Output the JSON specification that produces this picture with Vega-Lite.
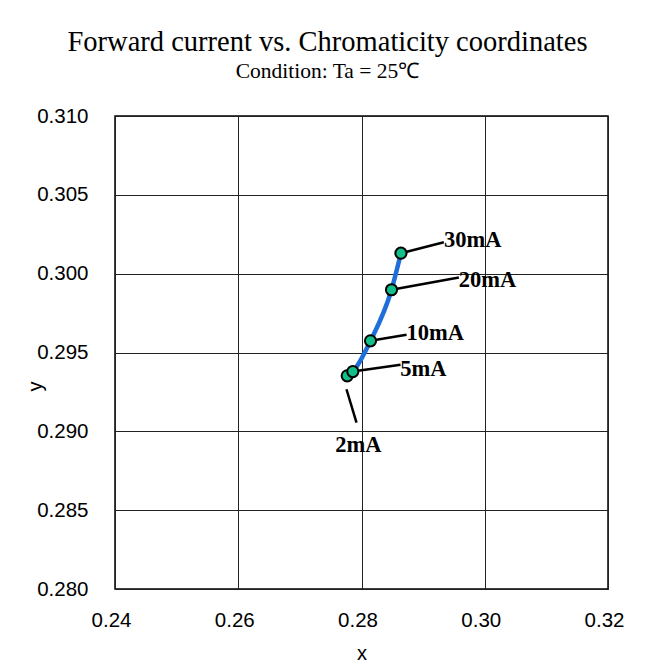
{
  "$schema": "https://vega.github.io/schema/vega-lite/v6.json",
  "autosize": "none",
  "width": 493,
  "height": 473,
  "padding": {"left": 115, "top": 116, "right": 43, "bottom": 77},
  "background": "white",
  "title": {
    "text": "Forward current vs. Chromaticity coordinates",
    "subtitle": "Condition: Ta = 25℃",
    "anchor": "middle",
    "frame": "group",
    "dx": -34,
    "offset": 24,
    "font": "Liberation Serif",
    "fontSize": 28.5,
    "fontWeight": "normal",
    "color": "black",
    "subtitleFont": "Liberation Serif",
    "subtitleFontSize": 21.5,
    "subtitleColor": "black",
    "subtitlePadding": 4
  },
  "datasets": {
    "pts": [
      {"current": "2mA", "mA": 2, "x": 0.27768, "y": 0.29352},
      {"current": "5mA", "mA": 5, "x": 0.27859, "y": 0.29379},
      {"current": "10mA", "mA": 10, "x": 0.28146, "y": 0.29574},
      {"current": "20mA", "mA": 20, "x": 0.28487, "y": 0.29898},
      {"current": "30mA", "mA": 30, "x": 0.2864, "y": 0.3013}
    ],
    "leaders": [
      {"current": "30mA", "x": 0.2864, "y": 0.3013, "x2": 0.29336, "y2": 0.30199},
      {"current": "20mA", "x": 0.28487, "y": 0.29898, "x2": 0.2958, "y2": 0.29976},
      {"current": "10mA", "x": 0.28146, "y": 0.29574, "x2": 0.28731, "y2": 0.29612},
      {"current": "5mA", "x": 0.27859, "y": 0.29379, "x2": 0.28633, "y2": 0.29422},
      {"current": "2mA", "x": 0.27756, "y": 0.29267, "x2": 0.27919, "y2": 0.29055}
    ],
    "labels": [
      {"current": "30mA", "x": 0.2934, "y": 0.30216},
      {"current": "20mA", "x": 0.2958, "y": 0.29962},
      {"current": "10mA", "x": 0.2873, "y": 0.29625},
      {"current": "5mA", "x": 0.2863, "y": 0.29398}
    ],
    "labels2": [
      {"current": "2mA", "x": 0.27951, "y": 0.28914}
    ]
  },
  "config": {
    "view": {"stroke": "black", "strokeWidth": 1.5},
    "axis": {
      "labelFont": "Liberation Sans",
      "labelFontSize": 20.5,
      "labelColor": "black",
      "labelFlush": false,
      "titleFont": "Liberation Sans",
      "titleFontSize": 20,
      "titleFontWeight": "normal",
      "titleColor": "black",
      "grid": true,
      "gridColor": "#222222",
      "gridOpacity": 1,
      "gridWidth": 1,
      "domain": false,
      "ticks": false,
      "tickSize": 0
    }
  },
  "encoding": {
    "x": {
      "field": "x", "type": "quantitative",
      "scale": {"domain": [0.24, 0.32], "nice": false, "zero": false},
      "axis": {"values": [0.24, 0.26, 0.28, 0.30, 0.32], "format": ".2f", "labelPadding": 21, "labelOffset": -4, "title": "x", "titlePadding": 13}
    },
    "y": {
      "field": "y", "type": "quantitative",
      "scale": {"domain": [0.28, 0.31], "nice": false, "zero": false},
      "axis": {"values": [0.28, 0.285, 0.29, 0.295, 0.30, 0.305, 0.31], "format": ".3f", "labelPadding": 27, "title": "y", "titleX": -80, "titleY": 270, "titleAngle": -90, "titleAlign": "center", "titleBaseline": "middle"}
    }
  },
  "layer": [
    {
      "data": {"name": "pts"},
      "mark": {"type": "line", "color": "#1e6fd9", "strokeWidth": 4.5, "interpolate": "monotone"},
      "encoding": {"order": {"field": "mA", "type": "quantitative"}}
    },
    {
      "data": {"name": "leaders"},
      "mark": {"type": "rule", "color": "black", "strokeWidth": 2.5},
      "encoding": {
        "x2": {"field": "x2"},
        "y2": {"field": "y2"}
      }
    },
    {
      "data": {"name": "pts"},
      "mark": {"type": "point", "shape": "circle", "filled": true, "fill": "#10bf8a", "stroke": "black", "strokeWidth": 2, "size": 125, "opacity": 1}
    },
    {
      "data": {"name": "labels"},
      "mark": {"type": "text", "align": "left", "baseline": "middle", "font": "Liberation Serif", "fontWeight": "bold", "fontSize": 22.5, "color": "black"},
      "encoding": {"text": {"field": "current"}}
    },
    {
      "data": {"name": "labels2"},
      "mark": {"type": "text", "align": "center", "baseline": "middle", "font": "Liberation Serif", "fontWeight": "bold", "fontSize": 22.5, "color": "black"},
      "encoding": {"text": {"field": "current"}}
    }
  ]
}
